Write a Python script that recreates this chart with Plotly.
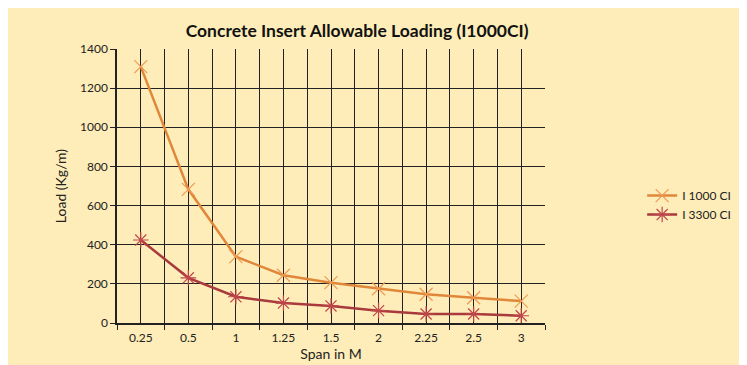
import plotly.graph_objects as go

# data
spans = ["0.25", "0.5", "1", "1.25", "1.5", "2", "2.25", "2.5", "3"]
load_i1000 = [1310, 683, 339, 244, 206, 175, 147, 129, 112]
load_i3300 = [424, 231, 134, 102, 87, 63, 46, 46, 37]

cream = "#FEEDB8"
xpos = list(range(len(spans)))

fig = go.Figure()
fig.add_trace(go.Scatter(
    x=xpos, y=load_i1000, name="I 1000 CI", mode="lines+markers",
    line=dict(color="#E0873A", width=2.5),
    marker=dict(symbol="x-thin", size=13, line=dict(color="#EE9A55", width=1.2)),
))
fig.add_trace(go.Scatter(
    x=xpos, y=load_i3300, name="I 3300 CI", mode="lines+markers",
    line=dict(color="#A83A3E", width=2.5),
    marker=dict(symbol="asterisk", size=13, line=dict(color="#C0464A", width=1.2)),
))

# page body adds an 8px margin, so the figure is sized to fit the window
fig.update_layout(
    width=739, height=357,
    margin=dict(l=109, r=202, t=41, b=42, autoexpand=False),
    paper_bgcolor=cream, plot_bgcolor=cream,
    font=dict(family="Lato", size=12, color="#222"),
    title=dict(text="<b>Concrete Insert Allowable Loading (I1000CI)</b>",
               x=0.561, xref="paper", xanchor="center", y=0.935, yanchor="middle",
               font=dict(size=17.5, color="#111")),
    legend=dict(x=1.227, y=0.518, xanchor="left", yanchor="top",
                bgcolor="rgba(0,0,0,0)", font=dict(size=12), itemwidth=30,
                tracegroupgap=4),
)

fig.update_xaxes(
    tickvals=xpos, ticktext=spans, range=[-0.5, len(spans) - 0.5],
    showgrid=True, gridcolor="#222", gridwidth=1,
    ticks="", zeroline=False, automargin=False,
    minor=dict(tick0=-0.5, dtick=1, showgrid=True, gridcolor="#222", gridwidth=1,
               ticks="outside", ticklen=5, tickcolor="#222"),
    showline=True, linecolor="#222", linewidth=1.5,
    ticklabelstandoff=3,
    title=dict(text="Span in M", standoff=1),
)
fig.update_yaxes(
    range=[0, 1400], dtick=200,
    showgrid=True, gridcolor="#222", gridwidth=1,
    ticks="outside", ticklen=5, tickcolor="#222", automargin=False,
    showline=True, linecolor="#222", linewidth=1.5, zeroline=False,
    title=dict(text="Load (Kg/m)", standoff=10),
)

fig.write_html("out.html")
